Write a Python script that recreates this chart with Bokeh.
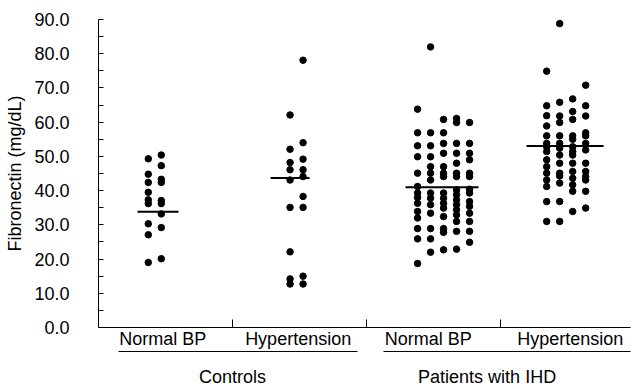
from bokeh.plotting import figure
from bokeh.models import LinearAxis, FixedTicker, PrintfTickFormatter, Range1d
from bokeh.embed import file_html
from bokeh.resources import INLINE

# ---------------- data (mg/dL), one list per plotted dot column ----------------
ctrl_normal_cols = [
    [49.3, 44.8, 42.4, 39.5, 37.3, 36.2, 30.3, 27.1, 19.0],
    [50.4, 47.3, 43.3, 42.4, 37.1, 36.2, 33.2, 29.2, 20.1],
]
ctrl_hyper_cols = [
    [62.1, 52.1, 48.2, 46.1, 43.1, 35.1, 22.1, 14.2, 12.7],
    [78.1, 54.0, 49.2, 46.1, 44.1, 38.3, 35.1, 15.0, 12.7],
]
ihd_normal_cols = [
    [63.8, 56.9, 53.1, 49.9, 45.1, 41.2, 39.3, 38.0, 36.3, 33.9, 32.0, 28.9, 25.9, 18.7],
    [82.0, 56.9, 53.1, 49.9, 47.0, 45.1, 43.1, 39.3, 37.8, 35.9, 33.4, 28.9, 25.9, 22.0],
    [60.8, 56.9, 53.8, 50.9, 47.0, 45.1, 44.1, 39.3, 37.8, 36.3, 34.9, 32.4, 28.9, 27.8, 22.7],
    [61.1, 59.9, 53.8, 50.9, 48.0, 45.1, 44.1, 40.2, 38.8, 37.3, 35.9, 34.4, 32.9, 31.0, 28.1, 22.9],
    [59.9, 53.8, 50.9, 49.0, 45.1, 44.1, 40.4, 39.3, 36.8, 35.4, 33.4, 31.0, 28.1, 24.9],
]
ihd_hyper_cols = [
    [74.9, 64.8, 61.9, 58.9, 56.0, 53.8, 52.8, 51.4, 49.0, 47.0, 45.1, 43.1, 41.2, 36.8, 31.0],
    [88.8, 65.8, 61.8, 59.9, 56.0, 53.8, 52.4, 50.4, 48.0, 45.1, 44.3, 42.2, 36.8, 31.0],
    [66.8, 63.1, 60.8, 56.0, 55.0, 52.8, 51.4, 50.4, 48.0, 45.6, 43.6, 41.7, 39.8, 33.9],
    [70.8, 64.8, 61.8, 56.9, 56.0, 53.8, 51.9, 48.0, 45.6, 44.1, 43.1, 39.8, 34.9],
]
group_means = [33.8, 43.7, 41.0, 53.0]

subgroup_labels = ["Normal BP", "Hypertension", "Normal BP", "Hypertension"]
group_labels = ["Controls", "Patients with IHD"]
y_ticks = [0, 10, 20, 30, 40, 50, 60, 70, 80, 90]
y_axis_title = "Fibronectin (mg/dL)"

# ---------------- layout (x in "section" units, boundaries at 1, 2, 3) ----------------
groups = [ctrl_normal_cols, ctrl_hyper_cols, ihd_normal_cols, ihd_hyper_cols]
col_centers = [0.42, 1.478, 2.575, 3.49]
col_step = 0.097
mean_x0 = [0.291, 1.284, 2.291, 3.194]
mean_x1 = [0.597, 1.575, 2.836, 3.769]
sub_label_pos = [0.48, 1.49, 2.46, 3.52]
group_label_pos = [1.0, 2.9]

FONT = "Liberation Sans"
FS = "18px"

xs, ys = [], []
for cols, c in zip(groups, col_centers):
    n = len(cols)
    for j, col in enumerate(cols):
        x = c + (j - (n - 1) / 2) * col_step
        for v in col:
            xs.append(x)
            ys.append(v)

p = figure(width=632, height=389, x_range=Range1d(0, 3.97), y_range=Range1d(0, 90),
           output_backend="svg", toolbar_location=None,
           min_border_left=98, min_border_right=2, min_border_top=19, min_border_bottom=0)
p.outline_line_color = None
p.grid.visible = False
p.background_fill_color = "white"

p.scatter(xs, ys, size=6.5, color="black")
p.segment(x0=mean_x0, y0=group_means, x1=mean_x1, y1=group_means,
          line_width=2, line_color="black")

# y axis
ya = p.yaxis[0]
ya.ticker = FixedTicker(ticks=y_ticks, minor_ticks=[t + 5 for t in y_ticks[:-1]])
ya.formatter = PrintfTickFormatter(format="%.1f")
ya.major_tick_in = 5
ya.major_tick_out = 0
ya.minor_tick_in = 5
ya.minor_tick_out = 0
ya.major_label_standoff = 29
ya.major_label_text_font = FONT
ya.major_label_text_font_size = FS
ya.major_label_text_color = "black"
ya.axis_label = y_axis_title
ya.axis_label_text_font = FONT
ya.axis_label_text_font_size = FS
ya.axis_label_text_font_style = "normal"
ya.axis_label_text_color = "black"
ya.axis_label_standoff = 6
ya.axis_line_color = "black"
ya.major_tick_line_color = "black"
ya.minor_tick_line_color = "black"

# x axis: section boundaries as inward ticks, subgroup names centred in sections
xa = p.xaxis[0]
xa.ticker = FixedTicker(ticks=sub_label_pos, minor_ticks=[1, 2, 3])
xa.major_label_overrides = {t: s for t, s in zip(sub_label_pos, subgroup_labels)}
xa.major_tick_in = 0
xa.major_tick_out = 0
xa.minor_tick_in = 8
xa.minor_tick_out = 0
xa.major_label_standoff = 1
xa.major_label_text_font = FONT
xa.major_label_text_font_size = FS
xa.major_label_text_color = "black"
xa.axis_line_color = "black"
xa.minor_tick_line_color = "black"

# underlines of the two groups
for b in [(0.15, 1.93), (2.13, 3.97)]:
    ax = LinearAxis(bounds=b, ticker=FixedTicker(ticks=[]), major_tick_in=0, major_tick_out=0,
                    minor_tick_in=0, minor_tick_out=0, major_label_standoff=0,
                    axis_line_color="black", axis_line_width=1)
    p.add_layout(ax, "below")

# group names
ga = LinearAxis(ticker=FixedTicker(ticks=group_label_pos), axis_line_color=None,
                major_tick_in=0, major_tick_out=0, minor_tick_in=0, minor_tick_out=0,
                major_label_standoff=15)
ga.major_label_overrides = {t: s for t, s in zip(group_label_pos, group_labels)}
ga.major_label_text_font = FONT
ga.major_label_text_font_size = FS
ga.major_label_text_color = "black"
p.add_layout(ga, "below")

open("out.html", "w").write(file_html(p, INLINE))
